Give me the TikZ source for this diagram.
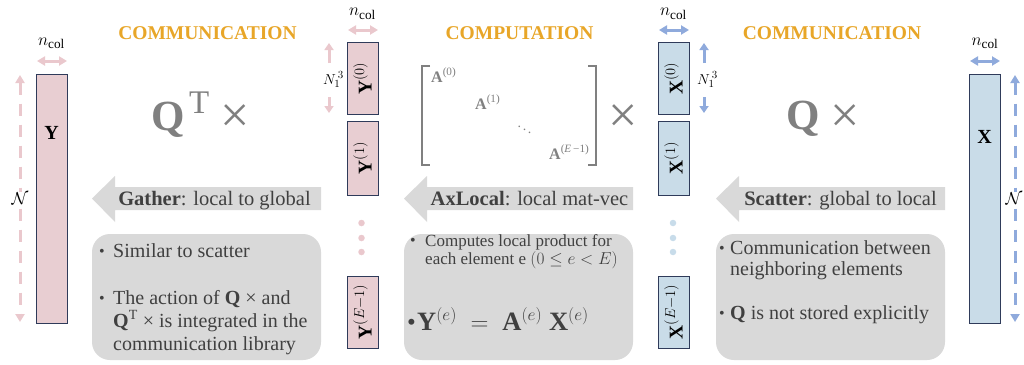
\documentclass[tikz,border=0pt]{standalone}
\usepackage{fontspec}
\setmainfont{Liberation Serif}
\usetikzlibrary{arrows.meta}
\definecolor{pinkfill}{RGB}{232,206,210}
\definecolor{bluefill}{RGB}{201,220,232}
\definecolor{pinkarr}{RGB}{234,200,205}
\definecolor{bluearr}{RGB}{143,170,220}
\definecolor{bluedot}{RGB}{200,220,234}
\definecolor{navy}{RGB}{47,59,90}
\definecolor{boxgray}{RGB}{217,217,217}
\definecolor{hdrcol}{RGB}{232,166,40}
\definecolor{txtgray}{RGB}{64,64,64}
\definecolor{biggray}{RGB}{128,128,128}
\tikzset{
  ycell/.style={draw=navy, line width=0.9pt, fill=pinkfill, minimum width=31pt, inner sep=0pt},
  xcell/.style={draw=navy, line width=0.9pt, fill=bluefill, minimum width=31pt, inner sep=0pt},
  celllab/.style={rotate=90, font=\fontsize{19.5}{21}\selectfont, inner sep=0pt},
  hdr/.style={font=\fontsize{19.5}{22}\selectfont\bfseries, text=hdrcol, anchor=base, inner sep=0pt},
  ncol/.style={font=\fontsize{19}{21}\selectfont, anchor=base, inner sep=0pt},
  nlab/.style={font=\fontsize{15}{17}\selectfont, anchor=base west, inner sep=0pt},
  parr/.style={draw=pinkarr, line width=3pt, -{Triangle[width=9pt,length=7pt]}},
  barr/.style={draw=bluearr, line width=3pt, -{Triangle[width=9pt,length=7pt]}},
  pdarr/.style={draw=pinkarr, line width=3pt, {Triangle[width=9pt,length=8pt]}-{Triangle[width=9pt,length=8pt]}},
  bdarr/.style={draw=bluearr, line width=3pt, {Triangle[width=9pt,length=8pt]}-{Triangle[width=9pt,length=8pt]}},
  dashy/.style={dash pattern=on 12pt off 9pt},
  calN/.style={font=\fontsize{17}{19}\selectfont, fill=white, inner sep=1pt},
  flowtxt/.style={font=\fontsize{20.5}{23}\selectfont, text=txtgray, anchor=base, inner sep=0pt},
  infobox/.style={fill=boxgray, draw=none, rounded corners=18pt},
  bl/.style={font=\fontsize{20}{23}\selectfont, text=txtgray, anchor=base west, inner sep=0pt},
  bul/.style={font=\fontsize{16}{18}\selectfont, text=txtgray, anchor=base west, inner sep=0pt},
  blsm/.style={font=\fontsize{17}{18}\selectfont, text=txtgray, anchor=base west, align=left, inner sep=0pt},
  bigq/.style={font=\fontsize{43}{46}\selectfont\bfseries, text=biggray, anchor=base west, inner sep=0pt},
  bigt/.style={font=\fontsize{33}{36}\selectfont, text=biggray, anchor=base west, inner sep=0pt},
  bigx/.style={font=\fontsize{52}{56}\selectfont, text=biggray, inner sep=0pt},
  amat/.style={font=\fontsize{16}{18}\selectfont, text=biggray, anchor=base west, inner sep=0pt},
  dotp/.style={circle, fill=pinkarr, minimum size=6.5pt, inner sep=0pt},
  dotb/.style={circle, fill=bluedot, minimum size=6.5pt, inner sep=0pt},
}
\begin{document}
\begin{tikzpicture}[x=1pt,y=-1pt]
\useasboundingbox[fill=white] (0,0) rectangle (1024,364);

% ---------- headers ----------
\node[hdr] (h1) at (207.5,39) {COMMUNICATION};
\node[hdr] (h2) at (519.5,39) {COMPUTATION};
\node[hdr] (h3) at (832,39) {COMMUNICATION};

% ---------- left global Y ----------
\node[ycell, minimum height=249pt] (Ycol) at (51.5,198.5) {};
\node[font=\fontsize{20}{22}\selectfont\bfseries, inner sep=0pt] (Ylab) at (51.5,133) {Y};
\node[ncol] (ncY) at (51.5,45) {$n_{\mathrm{col}}$};
\coordinate (ncYa) at (37,61); \coordinate (ncYb) at (67,61);
\draw[pdarr] (ncYa) -- (ncYb);
\coordinate (NYt) at (20,75); \coordinate (NYb) at (20,322);
\draw[pdarr, dashy] (NYt) -- (NYb);
\node[calN] (NY) at (20,199) {$\mathcal{N}$};

% ---------- right global X ----------
\node[xcell, minimum height=249pt] (Xcol) at (985,198.5) {};
\node[font=\fontsize{20}{22}\selectfont\bfseries, inner sep=0pt] (Xlab) at (984.5,137) {X};
\node[ncol] (ncX) at (985,45) {$n_{\mathrm{col}}$};
\coordinate (ncXa) at (970,61); \coordinate (ncXb) at (1000,61);
\draw[bdarr] (ncXa) -- (ncXb);
\coordinate (NXt) at (1015,75); \coordinate (NXb) at (1015,322);
\draw[bdarr, dashy] (NXt) -- (NXb);
\node[calN] (NX) at (1014,199) {$\mathcal{N}$};

% ---------- local Y blocks ----------
\node[ycell, minimum height=72pt] (y0) at (362.5,78.5) {};
\node[celllab] (y0l) at (362.5,78.5) {$\mathbf{Y}^{(0)}$};
\node[ycell, minimum height=74pt] (y1) at (362.5,158) {};
\node[celllab] (y1l) at (362.5,158) {$\mathbf{Y}^{(1)}$};
\node[ycell, minimum height=72pt] (yE) at (362.5,312) {};
\node[celllab] (yEl) at (362.5,312) {$\mathbf{Y}^{(E-1)}$};
\node[dotp] (yd1) at (361.5,223) {};
\node[dotp] (yd2) at (361.5,238) {};
\node[dotp] (yd3) at (361.5,252) {};
\node[ncol] (ncy) at (362.5,16) {$n_{\mathrm{col}}$};
\coordinate (ncya) at (348,30); \coordinate (ncyb) at (378,30);
\draw[pdarr] (ncya) -- (ncyb);
\coordinate (Nyu1) at (329,63); \coordinate (Nyu2) at (329,43);
\coordinate (Nyd1) at (329,97); \coordinate (Nyd2) at (329,113);
\draw[parr] (Nyu1) -- (Nyu2);
\draw[parr] (Nyd1) -- (Nyd2);
\node[nlab] (Ny) at (323,84) {$N_1^{\,3}$};

% ---------- local X blocks ----------
\node[xcell, minimum height=72pt] (x0) at (673.5,78.5) {};
\node[celllab] (x0l) at (673.5,78.5) {$\mathbf{X}^{(0)}$};
\node[xcell, minimum height=74pt] (x1) at (673.5,158) {};
\node[celllab] (x1l) at (673.5,158) {$\mathbf{X}^{(1)}$};
\node[xcell, minimum height=72pt] (xE) at (673.5,312) {};
\node[celllab] (xEl) at (673.5,312) {$\mathbf{X}^{(E-1)}$};
\node[dotb] (xd1) at (673,223) {};
\node[dotb] (xd2) at (673,238) {};
\node[dotb] (xd3) at (673,252) {};
\node[ncol] (ncx) at (673.5,16) {$n_{\mathrm{col}}$};
\coordinate (ncxa) at (659,30); \coordinate (ncxb) at (689,30);
\draw[bdarr] (ncxa) -- (ncxb);
\coordinate (Nxu1) at (704,63); \coordinate (Nxu2) at (704,43);
\coordinate (Nxd1) at (704,97); \coordinate (Nxd2) at (704,113);
\draw[barr] (Nxu1) -- (Nxu2);
\draw[barr] (Nxd1) -- (Nxd2);
\node[nlab] (Nx) at (697,84) {$N_1^{\,3}$};

% ---------- big operators ----------
\node[bigq] (QT) at (151,130) {Q};
\node[bigt] (QTt) at (189,113) {T};
\node[bigx] (x1op) at (235.5,118.5) {×};
\node[bigq] (Q) at (786,129) {Q};
\node[bigx] (x3op) at (845.5,118.5) {×};
\node[bigx] (x2op) at (623.5,118.5) {×};

% ---------- block-diagonal matrix ----------
\draw[biggray, line width=1.1pt] (430,66) -- (422,66) -- (422,165) -- (430,165);
\draw[biggray, line width=1.1pt] (588,66) -- (596,66) -- (596,165) -- (588,165);
\node[amat] (A0) at (431,82) {\textbf{A}\textsuperscript{(0)}};
\node[amat] (A1) at (475,109) {\textbf{A}\textsuperscript{(1)}};
\node[text=biggray, font=\fontsize{14}{16}\selectfont, inner sep=0pt] (Ad) at (524.5,127) {$\ddots$};
\node[amat] (AE) at (549,159) {\textbf{A}\textsuperscript{(\textit{E}\,−1)}};

% ---------- flow arrows ----------
\fill[boxgray] (321,187) -- (115,187) -- (115,176) -- (92,198.5) -- (115,222) -- (115,210) -- (321,210) -- cycle;
\fill[boxgray] (633,187) -- (427,187) -- (427,176) -- (404,198.5) -- (427,222) -- (427,210) -- (633,210) -- cycle;
\fill[boxgray] (945,187) -- (739,187) -- (739,176) -- (716,198.5) -- (739,222) -- (739,210) -- (945,210) -- cycle;
\node[flowtxt] (gat) at (214.5,205) {\textbf{Gather}: local to global};
\node[flowtxt] (axl) at (529.5,205) {\textbf{AxLocal}: local mat-vec};
\node[flowtxt] (sca) at (840.5,205) {\textbf{Scatter}: global to local};

% ---------- info boxes ----------
\node[infobox, minimum width=229pt, minimum height=126pt] (b1) at (206.5,297) {};
\node[infobox, minimum width=229pt, minimum height=126pt] (b2) at (518.5,297) {};
\node[infobox, minimum width=229pt, minimum height=126pt] (b3) at (830.5,297) {};

\node[bul] (b1a) at (99,256) {•};
\node[bl] (b1t1) at (113,257) {Similar to scatter};
\node[bul] (b1b) at (99,303) {•};
\node[bl] (b1t2) at (113,304) {The action of \textbf{Q} × and};
\node[bl] (b1t3) at (113,327) {\textbf{Q}\textsuperscript{T} × is integrated in the};
\node[bl] (b1t4) at (113,350) {communication library};

\node[bul] (b2a) at (410,245) {•};
\node[blsm] (b2t1) at (425,264) {Computes local product for\\each element e $(0 \le e < E)$};
\node[font=\fontsize{25}{28}\selectfont, text=txtgray, anchor=base west, inner sep=0pt] (b2b) at (407,330) {•};
\node[font=\fontsize{26.5}{29}\selectfont, text=txtgray, anchor=base west, inner sep=0pt] (b2t3) at (417,330) {$\mathbf{Y}^{(e)} \;=\; \mathbf{A}^{(e)}\;\mathbf{X}^{(e)}$};

\node[bul] (b3a) at (719,253) {•};
\node[bl] (b3t1) at (730,254) {Communication between};
\node[bl] (b3t2) at (730,275) {neighboring elements};
\node[bul] (b3b) at (719,318) {•};
\node[bl] (b3t3) at (730,319) {\textbf{Q} is not stored explicitly};
\end{tikzpicture}
\end{document}
